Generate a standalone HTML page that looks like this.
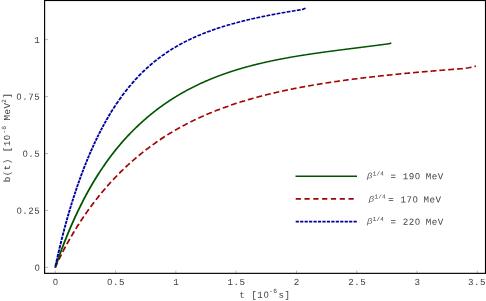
<!DOCTYPE html>
<html><head><meta charset="utf-8"><title>plot</title>
<style>
html,body{margin:0;padding:0;background:#fff;}
body{width:486px;height:301px;overflow:hidden;}
svg{display:block;}
text{font-family:"Liberation Mono",monospace;font-size:10px;fill:#404040;}
.z{font-family:"Liberation Sans",sans-serif;}
.beta{font-family:"Liberation Sans",sans-serif;font-style:italic;font-size:7.8px;fill:#5a5a5a;}
</style></head><body>
<svg width="486" height="301" viewBox="0 0 486 301">
<rect x="0" y="0" width="486" height="301" fill="#ffffff"/>

<path d="M55.25,273 V270.6 M115.55,273 V270.6 M175.85,273 V270.6 M236.15,273 V270.6 M296.45,273 V270.6 M356.75,273 V270.6 M417.05,273 V270.6 M477.35,273 V270.6 M45,267.40 H48 M45,210.45 H48 M45,153.50 H48 M45,96.55 H48 M45,39.60 H48" stroke="#8a8a8a" stroke-width="0.6" fill="none"/>
<g transform="scale(1,0.92)" fill="none" stroke-linejoin="round"><path d="M55.20,290.76 L55.45,290.16 L56.20,288.36 L56.95,286.59 L57.54,285.22 M58.81,282.32 L58.95,282.00 L59.70,280.32 L60.45,278.66 L61.20,277.03 L61.40,276.60 M62.74,273.74 L62.95,273.30 L63.70,271.74 L64.45,270.19 L65.20,268.66 L65.48,268.10 M66.89,265.28 L66.95,265.16 L67.70,263.69 L68.45,262.24 L69.20,260.79 L69.77,259.72 M71.25,256.94 L71.45,256.56 L72.20,255.18 L72.95,253.81 L73.70,252.45 L74.25,251.46 M75.80,248.73 L75.95,248.46 L76.70,247.15 L77.45,245.85 L78.20,244.57 L78.93,243.34 M80.54,240.64 L80.70,240.38 L81.45,239.14 L82.20,237.92 L82.95,236.70 L83.70,235.50 L83.80,235.34 M85.47,232.70 L85.70,232.34 L86.45,231.17 L87.20,230.01 L87.95,228.86 L88.70,227.73 L88.86,227.49 M90.59,224.89 L90.70,224.73 L91.45,223.63 L92.20,222.53 L92.95,221.45 L93.70,220.37 L94.11,219.79 M95.91,217.24 L95.95,217.19 L96.70,216.15 L97.45,215.12 L98.20,214.09 L98.95,213.07 L99.56,212.25 M101.43,209.77 L101.45,209.74 L102.20,208.76 L102.95,207.79 L103.70,206.82 L104.45,205.86 L105.20,204.91 L105.21,204.89 M107.15,202.47 L107.20,202.41 L107.95,201.49 L108.70,200.57 L109.45,199.66 L110.20,198.76 L110.95,197.87 L111.07,197.73 M113.07,195.37 L113.20,195.22 L113.95,194.36 L114.70,193.50 L115.45,192.64 L116.20,191.79 L116.95,190.95 L117.13,190.76 M119.20,188.47 L119.45,188.20 L120.20,187.39 L120.95,186.58 L121.70,185.78 L122.45,184.98 L123.20,184.20 L123.38,184.00 M125.53,181.79 L125.70,181.61 L126.45,180.85 L127.20,180.09 L127.95,179.34 L128.70,178.59 L129.45,177.85 L129.84,177.47 M132.05,175.33 L132.20,175.19 L132.95,174.47 L133.70,173.76 L134.45,173.06 L135.20,172.36 L135.95,171.67 L136.49,171.17 M138.76,169.11 L138.95,168.94 L139.70,168.27 L140.45,167.61 L141.20,166.95 L141.95,166.29 L142.70,165.64 L143.32,165.11 M145.65,163.13 L145.70,163.08 L146.45,162.46 L147.20,161.83 L147.95,161.21 L148.70,160.60 L149.45,159.99 L150.20,159.38 L150.32,159.28 M152.71,157.39 L152.95,157.20 L153.70,156.61 L154.45,156.03 L155.20,155.45 L155.95,154.88 L156.70,154.31 L157.45,153.75 L157.50,153.71 M159.94,151.90 L159.95,151.90 L160.70,151.35 L161.45,150.81 L162.20,150.27 L162.95,149.73 L163.70,149.20 L164.45,148.68 L164.84,148.40 M167.34,146.68 L167.45,146.61 L168.20,146.10 L168.95,145.60 L169.70,145.10 L170.45,144.60 L171.20,144.11 L171.95,143.62 L172.35,143.36 M174.89,141.73 L174.95,141.70 L175.70,141.22 L176.45,140.76 L177.20,140.29 L177.95,139.83 L178.70,139.37 L179.45,138.92 L180.00,138.59 M182.59,137.05 L182.70,136.98 L183.45,136.55 L184.20,136.11 L184.95,135.68 L185.70,135.25 L186.45,134.83 L187.20,134.41 L187.78,134.08 M190.42,132.63 L190.45,132.61 L191.20,132.21 L191.95,131.80 L192.70,131.40 L193.45,131.01 L194.20,130.61 L194.95,130.22 L195.69,129.84 M198.36,128.47 L198.45,128.43 L199.20,128.05 L199.95,127.68 L200.70,127.31 L201.45,126.94 L202.20,126.57 L202.95,126.21 L203.70,125.85 L203.71,125.85 M206.42,124.57 L206.45,124.55 L207.20,124.20 L207.95,123.86 L208.70,123.51 L209.45,123.17 L210.20,122.83 L210.95,122.49 L211.70,122.16 L211.83,122.10 M214.57,120.90 L214.70,120.85 L215.45,120.52 L216.20,120.20 L216.95,119.88 L217.70,119.57 L218.45,119.25 L219.20,118.94 L219.95,118.63 L220.04,118.60 M222.80,117.48 L222.95,117.42 L223.70,117.12 L224.45,116.82 L225.20,116.53 L225.95,116.23 L226.70,115.94 L227.45,115.65 L228.20,115.37 L228.32,115.32 M231.12,114.27 L231.20,114.24 L231.95,113.96 L232.70,113.69 L233.45,113.41 L234.20,113.14 L234.95,112.87 L235.70,112.60 L236.45,112.34 L236.68,112.26 M239.49,111.28 L239.70,111.21 L240.45,110.95 L241.20,110.69 L241.95,110.44 L242.70,110.19 L243.45,109.94 L244.20,109.69 L244.95,109.44 L245.10,109.40 M247.93,108.48 L247.95,108.47 L248.70,108.24 L249.45,108.00 L250.20,107.76 L250.95,107.53 L251.70,107.30 L252.45,107.07 L253.20,106.84 L253.57,106.73 M256.42,105.87 L256.45,105.86 L257.20,105.64 L257.95,105.42 L258.70,105.20 L259.45,104.99 L260.20,104.77 L260.95,104.56 L261.70,104.34 L262.09,104.23 M264.95,103.44 L264.95,103.44 L265.70,103.23 L266.45,103.03 L267.20,102.82 L267.95,102.62 L268.70,102.42 L269.45,102.22 L270.20,102.02 L270.64,101.91 M273.52,101.16 L273.70,101.12 L274.45,100.93 L275.20,100.74 L275.95,100.55 L276.70,100.36 L277.45,100.18 L278.20,99.99 L278.95,99.81 L279.23,99.74 M282.12,99.04 L282.20,99.02 L282.95,98.85 L283.70,98.67 L284.45,98.49 L285.20,98.32 L285.95,98.14 L286.70,97.97 L287.45,97.80 L287.85,97.71 M290.75,97.06 L290.95,97.02 L291.70,96.85 L292.45,96.68 L293.20,96.52 L293.95,96.36 L294.70,96.20 L295.45,96.04 L296.20,95.88 L296.50,95.81 M299.40,95.21 L299.45,95.20 L300.20,95.04 L300.95,94.89 L301.70,94.73 L302.45,94.58 L303.20,94.43 L303.95,94.28 L304.70,94.13 L305.17,94.04 M308.08,93.47 L308.20,93.45 L308.95,93.30 L309.70,93.16 L310.45,93.02 L311.20,92.87 L311.95,92.73 L312.70,92.59 L313.45,92.45 L313.85,92.38 M316.77,91.84 L316.95,91.81 L317.70,91.68 L318.45,91.54 L319.20,91.41 L319.95,91.27 L320.70,91.14 L321.45,91.01 L322.20,90.88 L322.56,90.82 M325.47,90.32 L325.70,90.28 L326.45,90.15 L327.20,90.03 L327.95,89.90 L328.70,89.78 L329.45,89.65 L330.20,89.53 L330.95,89.41 L331.27,89.35 M334.20,88.88 L334.20,88.88 L334.95,88.76 L335.70,88.64 L336.45,88.53 L337.20,88.41 L337.95,88.29 L338.70,88.18 L339.45,88.06 L340.00,87.98 M342.93,87.53 L342.95,87.53 L343.70,87.42 L344.45,87.31 L345.20,87.19 L345.95,87.08 L346.70,86.97 L347.45,86.86 L348.20,86.76 L348.74,86.68 M351.67,86.26 L351.70,86.26 L352.45,86.15 L353.20,86.04 L353.95,85.94 L354.70,85.84 L355.45,85.73 L356.20,85.63 L356.95,85.53 L357.49,85.45 M360.42,85.06 L360.45,85.05 L361.20,84.95 L361.95,84.85 L362.70,84.75 L363.45,84.66 L364.20,84.56 L364.95,84.46 L365.70,84.36 L366.24,84.29 M369.18,83.92 L369.20,83.92 L369.95,83.82 L370.70,83.73 L371.45,83.63 L372.20,83.54 L372.95,83.45 L373.70,83.35 L374.45,83.26 L375.00,83.19 M377.94,82.84 L377.95,82.84 L378.70,82.75 L379.45,82.66 L380.20,82.57 L380.95,82.48 L381.70,82.39 L382.45,82.31 L383.20,82.22 L383.77,82.15 M386.71,81.81 L386.95,81.79 L387.70,81.70 L388.45,81.62 L389.20,81.53 L389.95,81.45 L390.70,81.36 L391.45,81.28 L392.20,81.20 L392.54,81.16 M395.48,80.84 L395.70,80.81 L396.45,80.73 L397.20,80.65 L397.95,80.57 L398.70,80.49 L399.45,80.41 L400.20,80.33 L400.95,80.25 L401.32,80.21 M404.26,79.91 L404.45,79.89 L405.20,79.81 L405.95,79.73 L406.70,79.65 L407.45,79.58 L408.20,79.50 L408.95,79.43 L409.70,79.35 L410.10,79.31 M413.04,79.02 L413.20,79.00 L413.95,78.93 L414.70,78.85 L415.45,78.78 L416.20,78.70 L416.95,78.63 L417.70,78.56 L418.45,78.49 L418.89,78.44 M421.83,78.16 L421.95,78.15 L422.70,78.08 L423.45,78.01 L424.20,77.94 L424.95,77.87 L425.70,77.80 L426.45,77.73 L427.20,77.66 L427.67,77.61 M430.62,77.34 L430.70,77.34 L431.45,77.27 L432.20,77.20 L432.95,77.13 L433.70,77.06 L434.45,77.00 L435.20,76.93 L435.95,76.86 L436.46,76.82 M439.41,76.56 L439.45,76.55 L440.20,76.49 L440.95,76.42 L441.70,76.35 L442.45,76.29 L443.20,76.22 L443.95,76.16 L444.70,76.09 L445.25,76.05 M448.20,75.80 L448.45,75.77 L449.20,75.71 L449.95,75.65 L450.70,75.58 L451.45,75.52 L452.20,75.46 L452.95,75.40 L453.70,75.33 L454.05,75.30 M456.99,75.06 L457.20,75.04 L457.95,74.98 L458.70,74.92 L459.45,74.86 L460.20,74.80 L460.95,74.74 L461.70,74.68 L462.84,74.54 M465.77,74.11 L468.60,73.64 L471.55,73.03 M474.42,72.28 L475.80,71.90" stroke="#a20404" stroke-width="1.75"/></g>
<g transform="scale(1,0.8)" fill="none" stroke-linejoin="round"><path d="M55.20,334.38 L55.70,332.54 L56.20,330.72 L56.70,328.92 L57.20,327.13 L57.70,325.35 L58.20,323.59 L58.70,321.84 L59.20,320.11 L59.70,318.38 L60.20,316.68 L60.70,314.98 L61.20,313.30 L61.70,311.63 L62.20,309.98 L62.70,308.33 L63.20,306.70 L63.70,305.09 L64.20,303.48 L64.70,301.89 L65.20,300.31 L65.70,298.74 L66.20,297.18 L66.70,295.64 L67.20,294.10 L67.70,292.58 L68.20,291.07 L68.70,289.57 L69.20,288.09 L69.70,286.61 L70.20,285.14 L70.70,283.69 L71.20,282.25 L71.70,280.81 L72.20,279.39 L72.70,277.98 L73.20,276.58 L73.70,275.19 L74.20,273.80 L74.70,272.43 L75.20,271.07 L75.70,269.72 L76.20,268.38 L76.70,267.05 L77.20,265.73 L77.70,264.42 L78.20,263.11 L78.70,261.82 L79.20,260.54 L79.70,259.26 L80.20,258.00 L80.70,256.74 L81.20,255.49 L81.70,254.26 L82.20,253.03 L82.70,251.80 L83.20,250.59 L83.70,249.39 L84.20,248.19 L84.70,247.01 L85.20,245.83 L85.70,244.66 L86.20,243.50 L86.70,242.34 L87.20,241.20 L87.70,240.06 L88.20,238.93 L88.70,237.81 L89.20,236.69 L89.70,235.59 L90.20,234.49 L90.70,233.40 L91.20,232.31 L91.70,231.24 L92.20,230.17 L92.70,229.11 L93.20,228.05 L93.70,227.01 L94.20,225.97 L94.70,224.94 L95.20,223.91 L95.70,222.90 L96.20,221.88 L96.70,220.88 L97.20,219.88 L97.70,218.90 L98.20,217.91 L98.70,216.94 L99.20,215.97 L99.70,215.00 L100.20,214.05 L100.70,213.10 L101.20,212.15 L101.70,211.22 L102.20,210.29 L102.70,209.36 L103.20,208.44 L103.70,207.53 L104.20,206.63 L104.70,205.73 L105.20,204.83 L105.70,203.94 L106.20,203.06 L106.70,202.18 L107.20,201.31 L107.70,200.45 L108.20,199.59 L108.70,198.74 L109.20,197.89 L109.70,197.05 L110.20,196.21 L110.70,195.38 L111.20,194.55 L111.70,193.73 L112.20,192.92 L112.70,192.11 L113.20,191.30 L113.70,190.50 L114.20,189.71 L114.70,188.92 L115.20,188.14 L115.70,187.36 L116.20,186.58 L116.70,185.81 L117.20,185.05 L117.70,184.29 L118.20,183.54 L118.70,182.79 L119.20,182.04 L119.70,181.30 L120.20,180.57 L120.70,179.83 L121.20,179.11 L121.70,178.39 L122.20,177.67 L122.70,176.96 L123.20,176.25 L123.70,175.54 L124.20,174.84 L124.70,174.15 L125.20,173.46 L125.70,172.77 L126.20,172.09 L126.70,171.41 L127.20,170.73 L127.70,170.06 L128.20,169.40 L128.70,168.74 L129.20,168.08 L129.70,167.42 L130.20,166.77 L130.70,166.13 L131.20,165.49 L131.70,164.85 L132.20,164.21 L132.70,163.58 L133.20,162.95 L133.70,162.33 L134.20,161.71 L134.70,161.10 L135.20,160.48 L135.70,159.87 L136.20,159.27 L136.70,158.67 L137.20,158.07 L137.70,157.48 L138.20,156.88 L138.70,156.30 L139.20,155.71 L139.70,155.13 L140.20,154.55 L140.70,153.98 L141.20,153.41 L141.70,152.84 L142.20,152.28 L142.70,151.72 L143.20,151.16 L143.70,150.60 L144.20,150.05 L144.70,149.50 L145.20,148.96 L145.70,148.42 L146.20,147.88 L146.70,147.34 L147.20,146.81 L147.70,146.28 L148.20,145.75 L148.70,145.23 L149.20,144.70 L149.70,144.19 L150.20,143.67 L150.70,143.16 L151.20,142.65 L151.70,142.14 L152.20,141.64 L152.70,141.14 L153.20,140.64 L153.70,140.14 L154.20,139.65 L154.70,139.16 L155.20,138.68 L155.70,138.19 L156.20,137.71 L156.70,137.23 L157.20,136.76 L157.70,136.29 L158.20,135.82 L158.70,135.35 L159.20,134.89 L159.70,134.42 L160.20,133.96 L160.70,133.51 L161.20,133.05 L161.70,132.60 L162.20,132.16 L162.70,131.71 L163.20,131.27 L163.70,130.83 L164.20,130.39 L164.70,129.95 L165.20,129.52 L165.70,129.09 L166.20,128.66 L166.70,128.23 L167.20,127.81 L167.70,127.39 L168.20,126.97 L168.70,126.56 L169.20,126.14 L169.70,125.73 L170.20,125.32 L170.70,124.91 L171.20,124.51 L171.70,124.11 L172.20,123.71 L172.70,123.31 L173.20,122.92 L173.70,122.52 L174.20,122.13 L174.70,121.74 L175.20,121.36 L175.70,120.97 L176.20,120.59 L176.70,120.21 L177.20,119.84 L177.70,119.46 L178.20,119.09 L178.70,118.72 L179.20,118.35 L179.70,117.98 L180.20,117.62 L180.70,117.25 L181.20,116.89 L181.70,116.53 L182.20,116.18 L182.70,115.82 L183.20,115.47 L183.70,115.12 L184.20,114.77 L184.70,114.42 L185.20,114.08 L185.70,113.74 L186.20,113.40 L186.70,113.06 L187.20,112.72 L187.70,112.39 L188.20,112.05 L188.70,111.72 L189.20,111.39 L189.70,111.07 L190.20,110.74 L190.70,110.42 L191.20,110.10 L191.70,109.78 L192.20,109.46 L192.70,109.14 L193.20,108.83 L193.70,108.51 L194.20,108.20 L194.70,107.89 L195.20,107.59 L195.70,107.28 L196.20,106.98 L196.70,106.67 L197.20,106.37 L197.70,106.07 L198.20,105.78 L198.70,105.48 L199.20,105.19 L199.70,104.89 L200.20,104.60 L200.70,104.32 L201.20,104.03 L201.70,103.74 L202.20,103.46 L202.70,103.18 L203.20,102.89 L203.70,102.62 L204.20,102.34 L204.70,102.06 L205.20,101.79 L205.70,101.51 L206.20,101.24 L206.70,100.97 L207.20,100.70 L207.70,100.44 L208.20,100.17 L208.70,99.91 L209.20,99.65 L209.70,99.38 L210.20,99.12 L210.70,98.87 L211.20,98.61 L211.70,98.36 L212.20,98.10 L212.70,97.85 L213.20,97.60 L213.70,97.35 L214.20,97.10 L214.70,96.85 L215.20,96.61 L215.70,96.37 L216.20,96.12 L216.70,95.88 L217.20,95.64 L217.70,95.40 L218.20,95.17 L218.70,94.93 L219.20,94.70 L219.70,94.46 L220.20,94.23 L220.70,94.00 L221.20,93.77 L221.70,93.54 L222.20,93.32 L222.70,93.09 L223.20,92.87 L223.70,92.64 L224.20,92.42 L224.70,92.20 L225.20,91.98 L225.70,91.77 L226.20,91.55 L226.70,91.33 L227.20,91.12 L227.70,90.91 L228.20,90.69 L228.70,90.48 L229.20,90.27 L229.70,90.07 L230.20,89.86 L230.70,89.65 L231.20,89.45 L231.70,89.25 L232.20,89.04 L232.70,88.84 L233.20,88.64 L233.70,88.44 L234.20,88.24 L234.70,88.05 L235.20,87.85 L235.70,87.66 L236.20,87.46 L236.70,87.27 L237.20,87.08 L237.70,86.89 L238.20,86.70 L238.70,86.51 L239.20,86.32 L239.70,86.14 L240.20,85.95 L240.70,85.77 L241.20,85.58 L241.70,85.40 L242.20,85.22 L242.70,85.04 L243.20,84.86 L243.70,84.68 L244.20,84.51 L244.70,84.33 L245.20,84.15 L245.70,83.98 L246.20,83.81 L246.70,83.64 L247.20,83.46 L247.70,83.29 L248.20,83.12 L248.70,82.96 L249.20,82.79 L249.70,82.62 L250.20,82.45 L250.70,82.29 L251.20,82.13 L251.70,81.96 L252.20,81.80 L252.70,81.64 L253.20,81.48 L253.70,81.32 L254.20,81.16 L254.70,81.00 L255.20,80.85 L255.70,80.69 L256.20,80.53 L256.70,80.38 L257.20,80.23 L257.70,80.07 L258.20,79.92 L258.70,79.77 L259.20,79.62 L259.70,79.47 L260.20,79.32 L260.70,79.17 L261.20,79.03 L261.70,78.88 L262.20,78.73 L262.70,78.59 L263.20,78.44 L263.70,78.30 L264.20,78.16 L264.70,78.02 L265.20,77.88 L265.70,77.74 L266.20,77.60 L266.70,77.46 L267.20,77.32 L267.70,77.18 L268.20,77.04 L268.70,76.91 L269.20,76.77 L269.70,76.64 L270.20,76.50 L270.70,76.37 L271.20,76.24 L271.70,76.11 L272.20,75.98 L272.70,75.85 L273.20,75.72 L273.70,75.59 L274.20,75.46 L274.70,75.33 L275.20,75.20 L275.70,75.08 L276.20,74.95 L276.70,74.82 L277.20,74.70 L277.70,74.58 L278.20,74.45 L278.70,74.33 L279.20,74.21 L279.70,74.09 L280.20,73.96 L280.70,73.84 L281.20,73.72 L281.70,73.61 L282.20,73.49 L282.70,73.37 L283.20,73.25 L283.70,73.13 L284.20,73.02 L284.70,72.90 L285.20,72.79 L285.70,72.67 L286.20,72.56 L286.70,72.44 L287.20,72.33 L287.70,72.22 L288.20,72.11 L288.70,71.99 L289.20,71.88 L289.70,71.77 L290.20,71.66 L290.70,71.55 L291.20,71.44 L291.70,71.33 L292.20,71.23 L292.70,71.12 L293.20,71.01 L293.70,70.91 L294.20,70.80 L294.70,70.69 L295.20,70.59 L295.70,70.48 L296.20,70.38 L296.70,70.28 L297.20,70.17 L297.70,70.07 L298.20,69.97 L298.70,69.86 L299.20,69.76 L299.70,69.66 L300.20,69.56 L300.70,69.46 L301.20,69.36 L301.70,69.26 L302.20,69.16 L302.70,69.06 L303.20,68.96 L303.70,68.86 L304.20,68.77 L304.70,68.67 L305.20,68.57 L305.70,68.48 L306.20,68.38 L306.70,68.28 L307.20,68.19 L307.70,68.09 L308.20,68.00 L308.70,67.90 L309.20,67.81 L309.70,67.72 L310.20,67.62 L310.70,67.53 L311.20,67.44 L311.70,67.34 L312.20,67.25 L312.70,67.16 L313.20,67.07 L313.70,66.98 L314.20,66.89 L314.70,66.80 L315.20,66.71 L315.70,66.62 L316.20,66.53 L316.70,66.44 L317.20,66.35 L317.70,66.26 L318.20,66.17 L318.70,66.08 L319.20,65.99 L319.70,65.91 L320.20,65.82 L320.70,65.73 L321.20,65.64 L321.70,65.56 L322.20,65.47 L322.70,65.38 L323.20,65.30 L323.70,65.21 L324.20,65.13 L324.70,65.04 L325.20,64.96 L325.70,64.87 L326.20,64.79 L326.70,64.70 L327.20,64.62 L327.70,64.53 L328.20,64.45 L328.70,64.37 L329.20,64.28 L329.70,64.20 L330.20,64.12 L330.70,64.03 L331.20,63.95 L331.70,63.87 L332.20,63.79 L332.70,63.70 L333.20,63.62 L333.70,63.54 L334.20,63.46 L334.70,63.38 L335.20,63.29 L335.70,63.21 L336.20,63.13 L336.70,63.05 L337.20,62.97 L337.70,62.89 L338.20,62.81 L338.70,62.73 L339.20,62.65 L339.70,62.57 L340.20,62.49 L340.70,62.41 L341.20,62.33 L341.70,62.25 L342.20,62.17 L342.70,62.09 L343.20,62.01 L343.70,61.93 L344.20,61.85 L344.70,61.77 L345.20,61.69 L345.70,61.61 L346.20,61.53 L346.70,61.45 L347.20,61.37 L347.70,61.29 L348.20,61.21 L348.70,61.13 L349.20,61.06 L349.70,60.98 L350.20,60.90 L350.70,60.82 L351.20,60.74 L351.70,60.66 L352.20,60.58 L352.70,60.50 L353.20,60.43 L353.70,60.35 L354.20,60.27 L354.70,60.19 L355.20,60.11 L355.70,60.03 L356.20,59.95 L356.70,59.88 L357.20,59.80 L357.70,59.72 L358.20,59.64 L358.70,59.56 L359.20,59.48 L359.70,59.40 L360.20,59.33 L360.70,59.25 L361.20,59.17 L361.70,59.09 L362.20,59.01 L362.70,58.93 L363.20,58.85 L363.70,58.78 L364.20,58.70 L364.70,58.62 L365.20,58.54 L365.70,58.46 L366.20,58.38 L366.70,58.30 L367.20,58.22 L367.70,58.14 L368.20,58.06 L368.70,57.98 L369.20,57.90 L369.70,57.82 L370.20,57.74 L370.70,57.67 L371.20,57.59 L371.70,57.51 L372.20,57.43 L372.70,57.35 L373.20,57.26 L373.70,57.18 L374.20,57.10 L374.70,57.02 L375.20,56.94 L375.70,56.86 L376.20,56.78 L376.70,56.70 L377.20,56.62 L377.70,56.54 L378.20,56.46 L378.70,56.37 L379.20,56.29 L379.70,56.21 L380.20,56.13 L380.70,56.05 L381.20,55.96 L381.70,55.88 L382.20,55.80 L382.70,55.72 L383.20,55.63 L383.70,55.55 L384.20,55.47 L384.70,55.38 L385.20,55.30 L385.70,55.22 L386.20,55.13 L386.70,55.05 L387.20,54.96 L387.70,54.88 L388.20,54.80 L388.70,54.71 L389.20,54.63 L389.50,54.57 L391.30,53.50" stroke="#005400" stroke-width="1.85"/></g>
<g transform="scale(1,0.83)" fill="none" stroke-linejoin="round"><path d="M55.20,322.29 L55.28,321.84 M55.47,320.73 L55.70,319.46 L56.22,316.54 M56.42,315.43 L56.45,315.28 L57.19,311.25 M57.40,310.14 L57.45,309.85 L58.18,305.96 M58.40,304.85 L58.45,304.57 L59.20,300.69 L59.20,300.68 M59.42,299.57 L59.45,299.42 L60.20,295.64 L60.25,295.40 M60.47,294.30 L60.70,293.16 L61.32,290.15 M61.54,289.06 L61.70,288.29 L62.38,285.02 M62.61,283.96 L62.70,283.53 L63.45,280.06 M63.67,279.04 L63.70,278.88 L64.45,275.46 L64.49,275.27 M64.71,274.28 L64.95,273.22 L65.53,270.64 M65.75,269.69 L65.95,268.80 L66.56,266.15 M66.78,265.21 L66.95,264.47 L67.60,261.68 M67.83,260.75 L67.95,260.23 L68.67,257.23 M68.90,256.29 L68.95,256.08 L69.70,253.02 L69.76,252.78 M69.99,251.85 L70.20,251.01 L70.87,248.34 M71.11,247.41 L71.20,247.04 L71.95,244.12 L72.01,243.90 M72.25,242.98 L72.45,242.19 L73.16,239.48 M73.41,238.55 L73.45,238.40 L74.20,235.60 L74.34,235.07 M74.59,234.14 L74.70,233.75 L75.45,231.02 L75.55,230.66 M75.80,229.74 L75.95,229.22 L76.70,226.54 L76.78,226.27 M77.04,225.34 L77.20,224.78 L77.95,222.17 L78.03,221.88 M78.30,220.96 L78.45,220.45 L79.20,217.90 L79.32,217.51 M79.59,216.59 L79.70,216.22 L80.45,213.72 L80.63,213.14 M80.90,212.23 L80.95,212.08 L81.70,209.64 L81.96,208.79 M82.25,207.88 L82.45,207.23 L83.20,204.86 L83.33,204.46 M83.62,203.55 L83.70,203.29 L84.45,200.97 L84.72,200.13 M85.02,199.23 L85.20,198.68 L85.95,196.42 L86.15,195.82 M86.45,194.92 L86.70,194.18 L87.45,191.98 L87.60,191.53 M87.91,190.63 L87.95,190.53 L88.70,188.37 L89.09,187.25 M89.41,186.36 L89.45,186.24 L90.20,184.14 L90.61,182.99 M90.94,182.10 L90.95,182.07 L91.70,180.02 L92.17,178.75 M92.50,177.86 L92.70,177.33 L93.45,175.34 L93.76,174.53 M94.10,173.64 L94.20,173.38 L94.95,171.44 L95.39,170.32 M95.73,169.44 L95.95,168.90 L96.70,167.02 L97.05,166.14 M97.41,165.26 L97.45,165.16 L98.20,163.33 L98.76,161.98 M99.12,161.11 L99.20,160.92 L99.95,159.14 L100.50,157.84 M100.87,156.98 L100.95,156.80 L101.70,155.07 L102.29,153.74 M102.67,152.88 L102.70,152.80 L103.45,151.12 L104.12,149.65 M104.51,148.79 L104.70,148.37 L105.45,146.75 L106.04,145.49 M106.47,144.58 L106.70,144.09 L107.45,142.52 L108.11,141.16 M108.59,140.17 L108.70,139.95 L109.45,138.43 L110.20,136.93 L110.35,136.64 M110.89,135.56 L110.95,135.45 L111.70,133.99 L112.45,132.54 L112.78,131.91 M113.40,130.74 L113.45,130.64 L114.20,129.24 L114.95,127.85 L115.43,126.97 M116.14,125.69 L116.20,125.58 L116.95,124.24 L117.70,122.92 L118.28,121.90 M119.04,120.58 L119.20,120.31 L119.95,119.04 L120.70,117.78 L121.25,116.85 M122.04,115.56 L122.20,115.30 L122.95,114.08 L123.70,112.88 L124.33,111.89 M125.14,110.61 L125.20,110.52 L125.95,109.37 L126.70,108.22 L127.45,107.09 L127.50,107.02 M128.34,105.77 L128.45,105.61 L129.20,104.51 L129.95,103.42 L130.70,102.35 L130.77,102.24 M131.64,101.02 L131.70,100.94 L132.45,99.90 L133.20,98.87 L133.95,97.85 L134.15,97.58 M135.05,96.38 L135.20,96.18 L135.95,95.20 L136.70,94.22 L137.45,93.26 L137.64,93.02 M138.56,91.86 L138.70,91.68 L139.45,90.75 L140.20,89.83 L140.95,88.92 L141.22,88.59 M142.17,87.46 L142.20,87.42 L142.95,86.54 L143.70,85.67 L144.45,84.81 L144.91,84.28 M145.89,83.18 L145.95,83.12 L146.70,82.28 L147.45,81.46 L148.20,80.65 L148.71,80.10 M149.71,79.04 L149.95,78.79 L150.70,78.01 L151.45,77.24 L152.20,76.48 L152.61,76.07 M153.64,75.04 L153.70,74.98 L154.45,74.24 L155.20,73.51 L155.95,72.79 L156.60,72.17 M157.66,71.18 L157.70,71.14 L158.45,70.45 L159.20,69.76 L159.95,69.08 L160.69,68.42 M161.77,67.47 L161.95,67.32 L162.70,66.67 L163.45,66.02 L164.20,65.39 L164.88,64.82 M165.98,63.91 L166.20,63.73 L166.95,63.12 L167.70,62.52 L168.45,61.92 L169.14,61.37 M170.27,60.50 L170.45,60.36 L171.20,59.79 L171.95,59.23 L172.70,58.67 L173.45,58.11 L173.50,58.08 M174.64,57.25 L174.70,57.21 L175.45,56.67 L176.20,56.14 L176.95,55.62 L177.70,55.10 L177.93,54.94 M179.09,54.15 L179.20,54.08 L179.95,53.58 L180.70,53.09 L181.45,52.60 L182.20,52.11 L182.43,51.96 M183.62,51.21 L183.70,51.16 L184.45,50.69 L185.20,50.23 L185.95,49.77 L186.70,49.32 L187.01,49.13 M188.21,48.42 L188.45,48.28 L189.20,47.84 L189.95,47.41 L190.70,46.98 L191.45,46.56 L191.64,46.45 M192.85,45.78 L192.95,45.73 L193.70,45.32 L194.45,44.91 L195.20,44.51 L195.95,44.11 L196.33,43.92 M197.56,43.28 L197.70,43.20 L198.45,42.82 L199.20,42.44 L199.95,42.07 L200.70,41.69 L201.07,41.51 M202.30,40.91 L202.45,40.84 L203.20,40.48 L203.95,40.12 L204.70,39.77 L205.45,39.42 L205.85,39.24 M207.10,38.67 L207.20,38.62 L207.95,38.28 L208.70,37.95 L209.45,37.62 L210.20,37.29 L210.66,37.09 M211.92,36.54 L211.95,36.53 L212.70,36.21 L213.45,35.90 L214.20,35.59 L214.95,35.28 L215.52,35.04 M216.78,34.53 L216.95,34.46 L217.70,34.16 L218.45,33.87 L219.20,33.57 L219.95,33.28 L220.40,33.10 M221.67,32.62 L221.70,32.61 L222.45,32.32 L223.20,32.04 L223.95,31.76 L224.70,31.48 L225.31,31.26 M226.59,30.80 L226.70,30.76 L227.45,30.49 L228.20,30.22 L228.95,29.95 L229.70,29.69 L230.23,29.50 M231.52,29.06 L231.70,29.00 L232.45,28.74 L233.20,28.49 L233.95,28.24 L234.70,27.99 L235.18,27.83 M236.47,27.41 L236.70,27.34 L237.45,27.10 L238.20,26.86 L238.95,26.62 L239.70,26.38 L240.15,26.24 M241.45,25.84 L241.45,25.84 L242.20,25.61 L242.95,25.38 L243.70,25.16 L244.45,24.93 L245.14,24.73 M246.43,24.35 L246.45,24.34 L247.20,24.13 L247.95,23.91 L248.70,23.69 L249.45,23.48 L250.13,23.29 M251.44,22.92 L251.45,22.92 L252.20,22.71 L252.95,22.51 L253.70,22.30 L254.45,22.10 L255.15,21.91 M256.45,21.57 L256.70,21.50 L257.45,21.30 L258.20,21.11 L258.95,20.91 L259.70,20.72 L260.17,20.60 M261.48,20.27 L261.70,20.21 L262.45,20.02 L263.20,19.84 L263.95,19.65 L264.70,19.47 L265.20,19.34 M266.51,19.03 L266.70,18.98 L267.45,18.80 L268.20,18.62 L268.95,18.44 L269.70,18.27 L270.24,18.14 M271.56,17.83 L271.70,17.80 L272.45,17.63 L273.20,17.46 L273.95,17.29 L274.70,17.12 L275.29,16.98 M276.61,16.69 L276.70,16.67 L277.45,16.50 L278.20,16.34 L278.95,16.17 L279.70,16.01 L280.35,15.87 M281.67,15.59 L281.70,15.58 L282.45,15.42 L283.20,15.26 L283.95,15.10 L284.70,14.95 L285.41,14.80 M286.73,14.53 L286.95,14.48 L287.70,14.33 L288.45,14.17 L289.20,14.02 L289.95,13.87 L290.48,13.76 M291.80,13.50 L291.95,13.47 L292.70,13.32 L293.45,13.17 L294.20,13.03 L294.95,12.88 L295.55,12.76 M296.87,12.51 L296.95,12.49 L297.70,12.35 L298.45,12.21 L299.20,12.06 L299.95,11.92 L300.63,11.80 M301.95,11.55 L302.20,11.50 L303.60,10.84 L305.43,9.77 M306.66,9.12 L306.70,9.10" stroke="#00009c" stroke-width="1.92"/></g>
<rect x="44.6" y="0.5" width="440.9" height="272.85" fill="none" stroke="#000" stroke-width="1.15"/>
<defs><filter id="ga" filterUnits="userSpaceOnUse" x="0" y="0" width="486" height="301"><feOffset dx="0" dy="0"/></filter></defs><g filter="url(#ga)">
<text  transform="rotate(0.03 52.9 285.0)" x="52.93" y="285.00" style="font-size:9.2px"><tspan class="z" style="font-size:8.9px">0</tspan></text>
<text  transform="rotate(0.03 107.2 285.0)" x="107.23 112.94 118.94" y="285.00" style="font-size:9.2px"><tspan class="z" style="font-size:8.9px">0</tspan>.5</text>
<text  transform="rotate(0.03 173.2 285.0)" x="173.24" y="285.00" style="font-size:9.2px">1</text>
<text  transform="rotate(0.03 227.5 285.0)" x="227.54 233.54 239.54" y="285.00" style="font-size:9.2px">1.5</text>
<text  transform="rotate(0.03 293.8 285.0)" x="293.84" y="285.00" style="font-size:9.2px">2</text>
<text  transform="rotate(0.03 348.1 285.0)" x="348.14 354.14 360.14" y="285.00" style="font-size:9.2px">2.5</text>
<text  transform="rotate(0.03 414.4 285.0)" x="414.44" y="285.00" style="font-size:9.2px">3</text>
<text  transform="rotate(0.03 468.0 285.0)" x="468.04 474.04 480.04" y="285.00" style="font-size:9.2px">3.5</text>
<text  transform="rotate(0.03 34.6 270.7)" x="34.63" y="270.70" style="font-size:9.2px"><tspan class="z" style="font-size:8.9px">0</tspan></text>
<text  transform="rotate(0.03 16.6 213.8)" x="16.63 22.34 28.34 34.34" y="213.75" style="font-size:9.2px"><tspan class="z" style="font-size:8.9px">0</tspan>.25</text>
<text  transform="rotate(0.03 22.6 156.8)" x="22.63 28.34 34.34" y="156.80" style="font-size:9.2px"><tspan class="z" style="font-size:8.9px">0</tspan>.5</text>
<text  transform="rotate(0.03 16.6 99.8)" x="16.63 22.34 28.34 34.34" y="99.85" style="font-size:9.2px"><tspan class="z" style="font-size:8.9px">0</tspan>.75</text>
<text  transform="rotate(0.03 34.3 42.9)" x="34.34" y="42.90" style="font-size:9.2px">1</text>
<text  transform="rotate(0.03 239.3 297.8)" x="239.34 251.34 257.34 263.63" y="297.80" style="font-size:9.2px">t[1<tspan class="z" style="font-size:8.9px">0</tspan></text>
<text  transform="rotate(0.03 269.0 293.1)" x="269.03 273.13" y="293.10" style="font-size:6.4px">-6</text>
<text  transform="rotate(0.03 278.4 297.8)" x="278.44 284.44" y="297.80" style="font-size:9.2px">s]</text>
<g transform="translate(10,182.6) rotate(-90)">
<text  transform="rotate(0.03 0.2 0.0)" x="0.24 6.24 12.24 18.24 30.24 36.24 42.53" y="0.00" style="font-size:9.2px">b(t)[1<tspan class="z" style="font-size:8.9px">0</tspan></text>
<text  transform="rotate(0.03 48.8 -4.0)" x="48.83 52.93" y="-4.00" style="font-size:6.4px">-6</text>
<text  transform="rotate(0.03 62.0 0.0)" x="62.04 68.04 74.04" y="0.00" style="font-size:9.2px">MeV</text>
<text  transform="rotate(0.03 79.6 -4.0)" x="79.63" y="-4.00" style="font-size:6.4px">2</text>
<text  transform="rotate(0.03 84.1 0.0)" x="84.14" y="0.00" style="font-size:9.2px">]</text>
</g>
<path d="M295.5,176.25 H357" stroke="#005400" stroke-width="1.55" fill="none"/>
<path d="M295.7,198.9 H357" stroke="#a20404" stroke-width="1.75" stroke-dasharray="5.2 3.6" fill="none"/>
<path d="M295.7,221.7 H357" stroke="#00009c" stroke-width="1.7" stroke-dasharray="3.2 1.25" fill="none"/>
<text class="beta" transform="translate(367.0,178.3) rotate(0.03) scale(1.22,1)" x="0" y="0">β</text><text  transform="rotate(0.03 372.8 175.4)" x="372.75 376.45 380.15" y="175.40" style="font-size:6px">1/4</text><text  transform="rotate(0.03 390.4 179.2)" x="390.44" y="179.20" style="font-size:9.2px">=</text><text  transform="rotate(0.03 402.6 179.2)" x="402.64 408.64 414.93" y="179.20" style="font-size:9.2px">19<tspan class="z" style="font-size:8.9px">0</tspan></text><text  transform="rotate(0.03 425.6 179.2)" x="425.64 431.64 437.64" y="179.20" style="font-size:9.2px">MeV</text>
<text class="beta" transform="translate(368.8,201.5) rotate(0.03) scale(1.22,1)" x="0" y="0">β</text><text  transform="rotate(0.03 374.6 198.6)" x="374.55 378.25 381.95" y="198.60" style="font-size:6px">1/4</text><text  transform="rotate(0.03 388.3 202.4)" x="388.34" y="202.40" style="font-size:9.2px">=</text><text  transform="rotate(0.03 400.5 202.4)" x="400.54 406.54 412.83" y="202.40" style="font-size:9.2px">17<tspan class="z" style="font-size:8.9px">0</tspan></text><text  transform="rotate(0.03 423.5 202.4)" x="423.54 429.54 435.54" y="202.40" style="font-size:9.2px">MeV</text>
<text class="beta" transform="translate(367.0,223.8) rotate(0.03) scale(1.22,1)" x="0" y="0">β</text><text  transform="rotate(0.03 372.8 220.9)" x="372.75 376.45 380.15" y="220.90" style="font-size:6px">1/4</text><text  transform="rotate(0.03 390.4 224.7)" x="390.44" y="224.70" style="font-size:9.2px">=</text><text  transform="rotate(0.03 402.6 224.7)" x="402.64 408.64 414.93" y="224.70" style="font-size:9.2px">22<tspan class="z" style="font-size:8.9px">0</tspan></text><text  transform="rotate(0.03 425.6 224.7)" x="425.64 431.64 437.64" y="224.70" style="font-size:9.2px">MeV</text>
</g>
</svg></body></html>
